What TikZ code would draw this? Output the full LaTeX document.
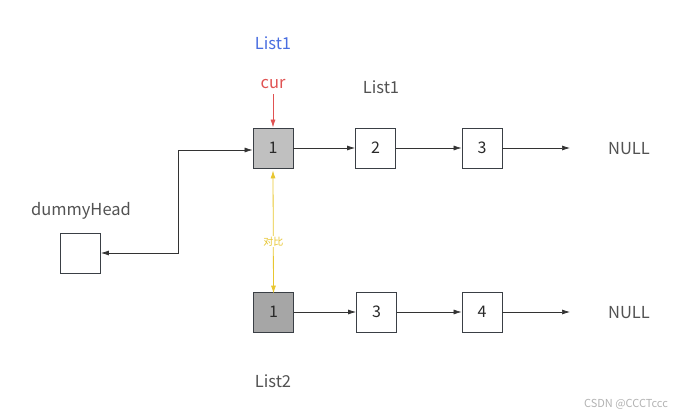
\documentclass[tikz,border=0pt]{standalone}
\usepackage{fontspec}
\setmainfont{Noto Sans CJK SC}
\usetikzlibrary{arrows.meta}
\definecolor{edge}{HTML}{333333}
\definecolor{boxline}{HTML}{3A3F45}
\definecolor{curred}{HTML}{E05252}
\definecolor{listblue}{HTML}{4A6EE0}
\definecolor{cmpyellow}{HTML}{E8C630}
\begin{document}
\begin{tikzpicture}[x=1pt,y=-1pt,
  nodebox/.style={draw=boxline,line width=0.8pt,minimum width=40pt,minimum height=40pt,inner sep=0pt,font=\fontsize{16}{18}\selectfont,text=edge!80!black},
  lbl/.style={font=\fontsize{16.5}{19}\selectfont,text=edge!85},
  link/.style={draw=edge,line width=0.7pt,-{Latex[length=8pt,width=5pt]}},
]
\useasboundingbox (0,0) rectangle (681,417);
% top row
\node[nodebox,fill={rgb,255:red,192;green,192;blue,192}] (a1) at (273,148) {1};
\node[nodebox,fill=white] (a2) at (375.5,148) {2};
\node[nodebox,fill=white] (a3) at (482,148) {3};
\coordinate (an) at (570,148);
\node[lbl] (null1) at (629,149) {NULL};
% bottom row
\node[nodebox,fill={rgb,255:red,166;green,166;blue,166}] (b1) at (273.5,312) {1};
\node[nodebox,fill=white] (b2) at (376.5,312) {3};
\node[nodebox,fill=white] (b3) at (482,312) {4};
\coordinate (bn) at (570,312);
\node[lbl] (null2) at (629,313) {NULL};
% dummy
\node[nodebox,fill=white] (d) at (80.5,253) {};
\node[lbl] (dl) at (81,211) {dummyHead};
% labels
\node[font=\fontsize{16.5}{19}\selectfont,text=listblue] (l1b) at (273,43) {List1};
\node[font=\fontsize{16.5}{19}\selectfont,text=curred] (cur) at (273,84) {cur};
\node[lbl] (l1) at (381,87) {List1};
\node[lbl] (l2) at (273,381) {List2};
\node[font=\fontsize{11}{12}\selectfont,text=gray!60] (wm) at (626,404) {CSDN @CCCTccc};
% links
\draw[link] (a1) -- (a2);
\draw[link] (a2) -- (a3);
\draw[link] (a3) -- (an);
\draw[link] (b1) -- (b2);
\draw[link] (b2) -- (b3);
\draw[link] (b3) -- (bn);
\coordinate (c1) at (178,150);
\draw[draw=edge,line width=0.7pt,{Latex[length=8pt,width=5pt]}-{Latex[length=8pt,width=5pt]}] (d.east) -- (c1 |- d.east) -- (c1) -- (a1.west |- c1);
\draw[draw=curred,line width=0.8pt,-{Latex[length=8pt,width=5pt]}] (cur.south) ++(0,2) -- (a1.north);
\draw[draw=cmpyellow,line width=0.8pt,{Latex[length=8pt,width=5pt]}-{Latex[length=8pt,width=5pt]}] (a1.south) ++(0,2) -- node[pos=0.575,fill=white,inner sep=1pt,font=\fontsize{10}{11}\selectfont,text=cmpyellow] (cmp) {对比} ([yshift=-2pt]b1.north);
\end{tikzpicture}
\end{document}
